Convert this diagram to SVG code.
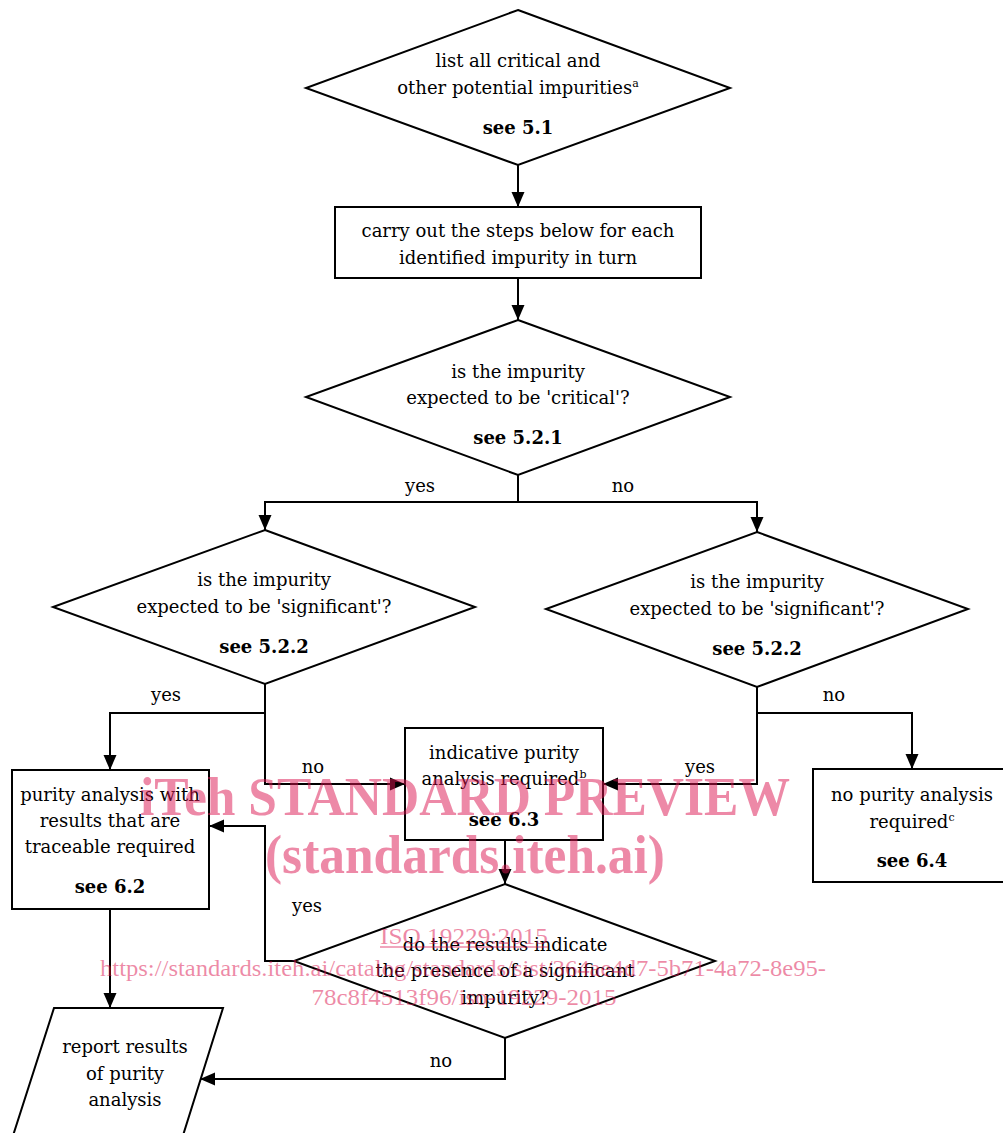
<svg xmlns="http://www.w3.org/2000/svg" width="1003" height="1133" viewBox="0 0 1003 1133">
<defs>
<marker id="ah" markerUnits="userSpaceOnUse" markerWidth="16" markerHeight="14" refX="15" refY="7" orient="auto">
<path d="M0,0.5 L15,7 L0,13.5 z" fill="#000"/>
</marker>
<style>
.s{fill:#fff;stroke:#000;stroke-width:2}
.c{fill:none;stroke:#000;stroke-width:2;marker-end:url(#ah)}
.l{fill:none;stroke:#000;stroke-width:2}
.t{font-family:"DejaVu Serif","Liberation Serif",serif;font-size:18px;fill:#000}
.m{text-anchor:middle}
.b{font-weight:bold}
.sup{font-size:11px}
.wm{fill:rgb(220,20,80);fill-opacity:0.5;font-family:"Liberation Serif","Times New Roman",serif;text-anchor:middle}
.wb{font-size:54px;font-weight:bold}
.ws{font-size:24px}
</style>
</defs>
<rect width="1003" height="1133" fill="#fff"/>

<g id="n1" class="t">
<polygon class="s" points="518,10 730,88 518,165 306,88"/>
<text class="m" x="518" y="67">list all critical and</text>
<text class="m" x="518" y="94">other potential impurities<tspan class="sup" dy="-7">a</tspan></text>
<text class="m b" x="518" y="134">see 5.1</text>
</g>

<g id="n2" class="t">
<rect class="s" x="335" y="207" width="366" height="71"/>
<text class="m" x="518" y="237">carry out the steps below for each</text>
<text class="m" x="518" y="264">identified impurity in turn</text>
</g>

<g id="n3" class="t">
<polygon class="s" points="518,320 730,397 518,475 306,397"/>
<text class="m" x="518" y="378">is the impurity</text>
<text class="m" x="518" y="404">expected to be 'critical'?</text>
<text class="m b" x="518" y="444">see 5.2.1</text>
</g>

<g id="n4" class="t">
<polygon class="s" points="265,530 475,607 265,684 53,607"/>
<text class="m" x="264" y="586">is the impurity</text>
<text class="m" x="264" y="613">expected to be 'significant'?</text>
<text class="m b" x="264" y="653">see 5.2.2</text>
</g>

<g id="n5" class="t">
<polygon class="s" points="757,532 968,609 757,687 546,609"/>
<text class="m" x="757" y="588">is the impurity</text>
<text class="m" x="757" y="615">expected to be 'significant'?</text>
<text class="m b" x="757" y="655">see 5.2.2</text>
</g>

<g id="n6" class="t">
<rect class="s" x="12" y="770" width="197" height="139"/>
<text class="m" x="110" y="801">purity analysis with</text>
<text class="m" x="110" y="827">results that are</text>
<text class="m" x="110" y="853">traceable required</text>
<text class="m b" x="110" y="893">see 6.2</text>
</g>

<g id="n7" class="t">
<rect class="s" x="405" y="728" width="198" height="112"/>
<text class="m" x="504" y="759">indicative purity</text>
<text class="m" x="504" y="785">analysis required<tspan class="sup" dy="-7">b</tspan></text>
<text class="m b" x="504" y="826">see 6.3</text>
</g>

<g id="n8" class="t">
<rect class="s" x="813" y="769" width="192" height="113"/>
<text class="m" x="912" y="801">no purity analysis</text>
<text class="m" x="912" y="828">required<tspan class="sup" dy="-7">c</tspan></text>
<text class="m b" x="912" y="867">see 6.4</text>
</g>

<g id="n9" class="t">
<polygon class="s" points="505,884 715,961 505,1038 294,961"/>
<text class="m" x="505" y="951">do the results indicate</text>
<text class="m" x="505" y="977">the presence of a significant</text>
<text class="m" x="505" y="1004">impurity?</text>
</g>

<g id="n10" class="t">
<polygon class="s" points="54,1008 223,1008 180,1145 10,1145"/>
<text class="m" x="125" y="1053">report results</text>
<text class="m" x="125" y="1080">of purity</text>
<text class="m" x="125" y="1106">analysis</text>
</g>

<g id="connectors" class="t">
<path class="c" d="M518,165 V207"/>
<path class="c" d="M518,278 V320"/>
<path class="l" d="M518,475 V502"/>
<path class="c" d="M518,502 H265 V530"/>
<path class="c" d="M518,502 H757 V532"/>
<path class="c" d="M265,684 V784 H405"/>
<path class="c" d="M265,713 H110 V770"/>
<path class="c" d="M757,687 V784 H603"/>
<path class="c" d="M757,713 H912 V769"/>
<path class="c" d="M505,840 V884"/>
<path class="c" d="M294,961 H265 V826 H209"/>
<path class="c" d="M505,1038 V1079 H200"/>
<path class="c" d="M110,909 V1008"/>
<text class="m" x="420" y="492">yes</text>
<text class="m" x="623" y="492">no</text>
<text class="m" x="166" y="701">yes</text>
<text class="m" x="313" y="773">no</text>
<text class="m" x="834" y="701">no</text>
<text class="m" x="700" y="773">yes</text>
<text class="m" x="307" y="912">yes</text>
<text class="m" x="441" y="1067">no</text>
</g>

<g id="watermark">
<text class="wm wb" x="465" y="815" textLength="650" lengthAdjust="spacingAndGlyphs">iTeh STANDARD PREVIEW</text>
<text class="wm wb" x="465" y="873" textLength="400" lengthAdjust="spacingAndGlyphs">(standards.iteh.ai)</text>
<text class="wm ws" x="464" y="944" textLength="168" lengthAdjust="spacingAndGlyphs">ISO 19229:2015</text>
<line x1="380" y1="947" x2="548" y2="947" stroke="rgb(220,20,80)" stroke-opacity="0.5" stroke-width="1.5"/>
<text class="wm ws" x="463" y="976" textLength="726" lengthAdjust="spacingAndGlyphs">https://standards.iteh.ai/catalog/standards/sist/364ae4d7-5b71-4a72-8e95-</text>
<text class="wm ws" x="464" y="1005" textLength="305" lengthAdjust="spacingAndGlyphs">78c8f4513f96/iso-19229-2015</text>
</g>
</svg>
